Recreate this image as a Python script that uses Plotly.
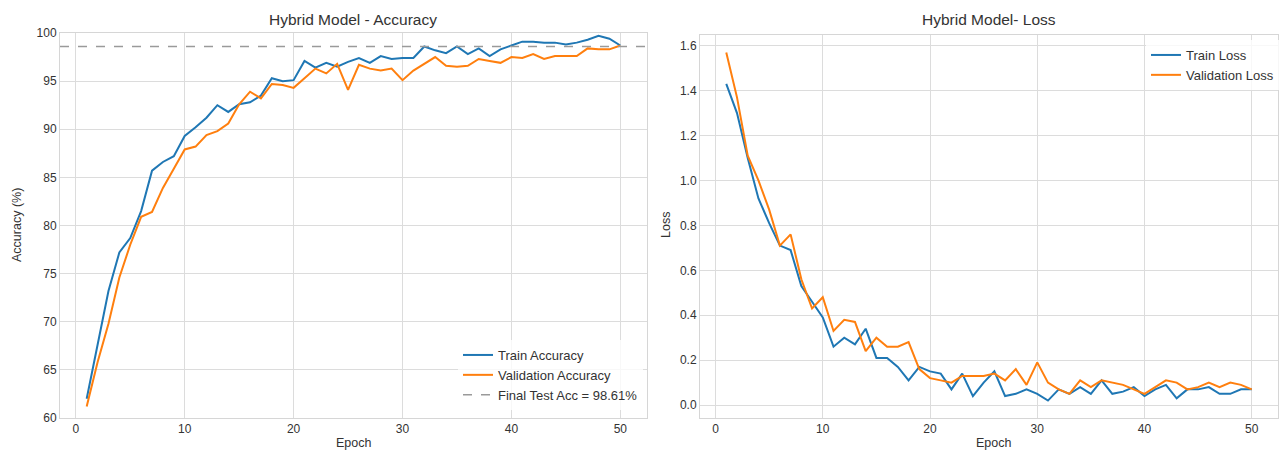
import plotly.graph_objects as go
from plotly.subplots import make_subplots

epochs = list(range(1, 51))

train_acc = [62.0, 67.8, 73.2, 77.2, 78.7, 81.5, 85.7, 86.6, 87.2, 89.3,
             90.2, 91.2, 92.5, 91.8, 92.6, 92.8, 93.5, 95.3, 95.0, 95.1,
             97.1, 96.4, 96.9, 96.5, 97.0, 97.4, 96.9, 97.6, 97.3, 97.4,
             97.4, 98.6, 98.2, 97.9, 98.6, 97.8, 98.4, 97.6, 98.3, 98.7,
             99.1, 99.1, 99.0, 99.0, 98.8, 99.0, 99.3, 99.7, 99.4, 98.7]

val_acc = [61.2, 65.8, 69.8, 74.6, 78.0, 80.9, 81.4, 83.9, 85.9, 87.9,
           88.2, 89.4, 89.8, 90.6, 92.6, 93.9, 93.2, 94.7, 94.6, 94.3,
           95.3, 96.3, 95.8, 96.8, 94.1, 96.7, 96.3, 96.1, 96.3, 95.1,
           96.1, 96.8, 97.5, 96.6, 96.5, 96.6, 97.3, 97.1, 96.9, 97.5,
           97.4, 97.8, 97.3, 97.6, 97.6, 97.6, 98.4, 98.3, 98.3, 98.7]

train_loss = [1.43, 1.30, 1.10, 0.92, 0.81, 0.71, 0.69, 0.53, 0.46, 0.39,
              0.26, 0.30, 0.27, 0.34, 0.21, 0.21, 0.17, 0.11, 0.17, 0.15,
              0.14, 0.07, 0.14, 0.04, 0.10, 0.15, 0.04, 0.05, 0.07, 0.05,
              0.02, 0.07, 0.05, 0.08, 0.05, 0.11, 0.05, 0.06, 0.08, 0.04,
              0.07, 0.09, 0.03, 0.07, 0.07, 0.08, 0.05, 0.05, 0.07, 0.07]

val_loss = [1.57, 1.37, 1.11, 1.00, 0.87, 0.71, 0.76, 0.56, 0.43, 0.48,
            0.33, 0.38, 0.37, 0.24, 0.30, 0.26, 0.26, 0.28, 0.16, 0.12,
            0.11, 0.10, 0.13, 0.13, 0.13, 0.14, 0.11, 0.16, 0.09, 0.19,
            0.10, 0.07, 0.05, 0.11, 0.08, 0.11, 0.10, 0.09, 0.07, 0.05,
            0.08, 0.11, 0.10, 0.07, 0.08, 0.10, 0.08, 0.10, 0.09, 0.07]

final_test_acc = 98.61

acc_ticks = [60, 65, 70, 75, 80, 85, 90, 95, 100]
loss_ticks = [0.0, 0.2, 0.4, 0.6, 0.8, 1.0, 1.2, 1.4, 1.6]
epoch_ticks = [0, 10, 20, 30, 40, 50]

BLUE = "#1f77b4"
ORANGE = "#ff7f0e"
FONT = "Liberation Sans, Arial, sans-serif"
TEXT = "#333333"
GRID = "#dcdcdc"

W, H = 1280, 451


def fx(px):
    return px / W


def fy(py):
    return 1 - py / H


fig = make_subplots(rows=1, cols=2)

fig.add_trace(go.Scatter(x=epochs, y=train_acc, mode="lines", name="Train Accuracy",
                         line=dict(color=BLUE, width=2), legend="legend"), row=1, col=1)
fig.add_trace(go.Scatter(x=epochs, y=val_acc, mode="lines", name="Validation Accuracy",
                         line=dict(color=ORANGE, width=2), legend="legend"), row=1, col=1)

fig.add_shape(type="line", xref="x domain", yref="y", x0=0, x1=1,
              y0=final_test_acc, y1=final_test_acc,
              line=dict(color="#9a9a9a", width=1.5, dash="dash"),
              showlegend=True, legend="legend",
              name=f"Final Test Acc = {final_test_acc:.2f}%")

fig.add_trace(go.Scatter(x=epochs, y=train_loss, mode="lines", name="Train Loss",
                         line=dict(color=BLUE, width=2), legend="legend2"), row=1, col=2)
fig.add_trace(go.Scatter(x=epochs, y=val_loss, mode="lines", name="Validation Loss",
                         line=dict(color=ORANGE, width=2), legend="legend2"), row=1, col=2)

axis_common = dict(
    showgrid=True, gridcolor=GRID, gridwidth=1,
    showline=True, linecolor="#d6d6d6", linewidth=1, mirror=True,
    zeroline=False, ticks="", automargin=False,
    tickfont=dict(family=FONT, size=12, color=TEXT),
)

fig.update_xaxes(**axis_common, tickvals=epoch_ticks, range=[-1.45, 52.45])
fig.update_layout(
    xaxis=dict(domain=[fx(60), fx(647)]),
    xaxis2=dict(domain=[fx(700), fx(1278)]),
    yaxis=dict(**axis_common, domain=[fy(418), fy(33)], range=[60, 100],
               tickvals=acc_ticks),
    yaxis2=dict(**axis_common, domain=[fy(418), fy(35)], range=[-0.0575, 1.6475],
                tickvals=loss_ticks, tickformat=".1f"),
)

annotations = [
    dict(text="Hybrid Model - Accuracy", x=fx(353), y=fy(20), size=15.5),
    dict(text="Hybrid Model- Loss", x=fx(989), y=fy(20), size=15.5),
    dict(text="Epoch", x=fx(353), y=fy(443), size=12.5),
    dict(text="Epoch", x=fx(993), y=fy(443), size=12.5),
    dict(text="Accuracy (%)", x=fx(17), y=fy(225), textangle=-90, size=12.5),
    dict(text="Loss", x=fx(666), y=fy(225), textangle=-90, size=12.5),
]
for a in annotations:
    size = a.pop("size")
    fig.add_annotation(xref="paper", yref="paper", showarrow=False,
                       xanchor="center", yanchor="middle",
                       font=dict(family=FONT, size=size, color=TEXT), **a)

fig.update_layout(
    width=W, height=H,
    margin=dict(l=0, r=0, t=0, b=0),
    paper_bgcolor="white", plot_bgcolor="white",
    font=dict(family=FONT, color=TEXT),
    legend=dict(x=fx(643), y=fy(410), xanchor="right", yanchor="bottom",
                bgcolor="rgba(255,255,255,0.8)", borderwidth=0,
                font=dict(family=FONT, size=13, color=TEXT),
                tracegroupgap=0, itemwidth=30),
    legend2=dict(x=fx(1146), y=fy(40), xanchor="left", yanchor="top",
                 bgcolor="rgba(255,255,255,0.8)", borderwidth=0,
                 font=dict(family=FONT, size=13, color=TEXT),
                 tracegroupgap=0, itemwidth=30),
)

fig.write_html("out.html")
